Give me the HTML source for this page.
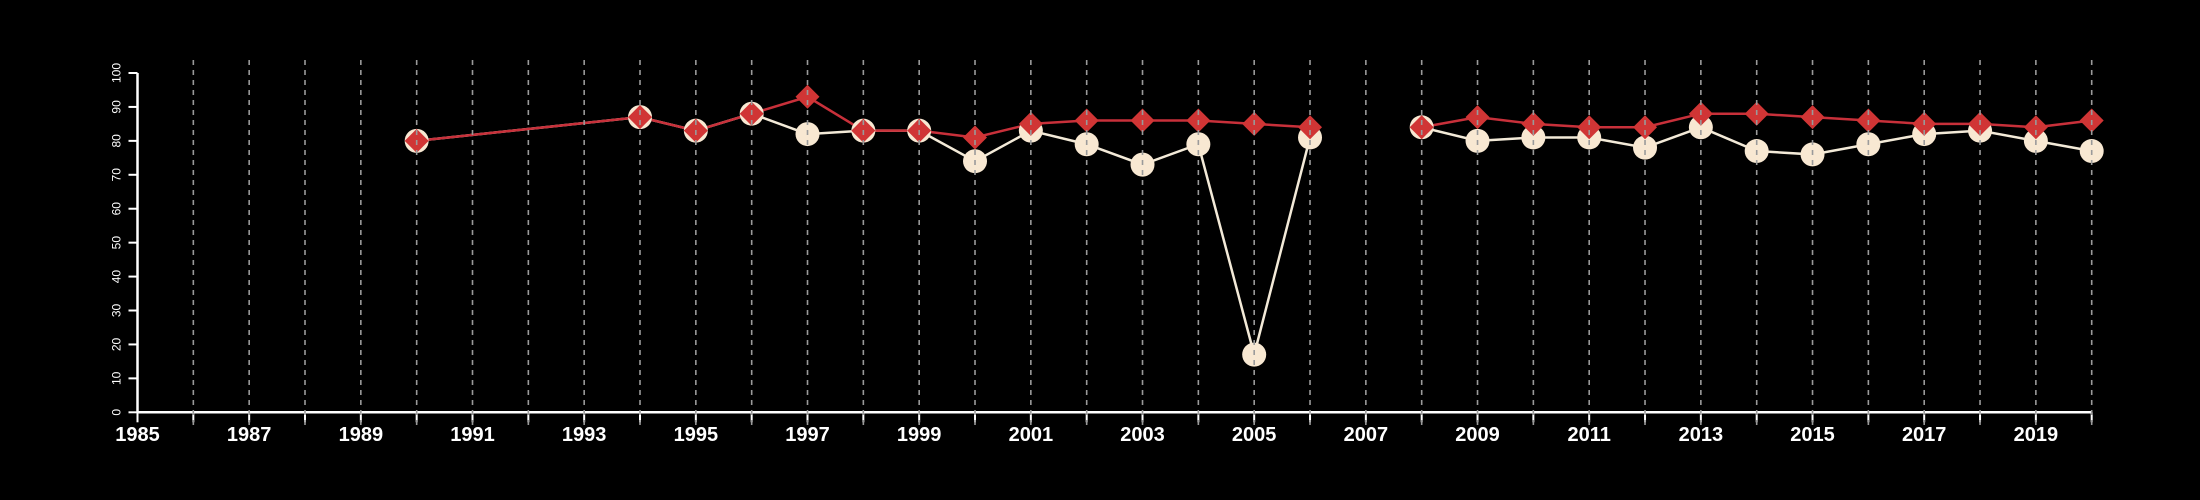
<!DOCTYPE html>
<html><head><meta charset="utf-8"><style>
html,body{margin:0;padding:0;background:#000;}
svg{display:block;font-family:"Liberation Sans",sans-serif;}
</style></head><body>
<svg id="chart" width="2200" height="500" viewBox="0 0 2200 500" xmlns="http://www.w3.org/2000/svg">
<rect width="2200" height="500" fill="#000"/>
<g id="axes"></g><g id="lines"></g><g id="pts"></g><g id="grid"></g>
</svg>
<script>
const years = [1990,1994,1995,1996,1997,1998,1999,2000,2001,2002,2003,2004,2005,2006,2007,2008,2009,2010,2011,2012,2013,2014,2015,2016,2017,2018,2019,2020];
const whiteSeries = [80,87,83,88,82,83,83,74,83,79,73,79,17,81,null,84,80,81,81,78,84,77,76,79,82,83,80,77];
const redSeries = [80,87,83,88,93,83,83,81,85,86,86,86,85,84,null,84,87,85,84,84,88,88,87,86,85,85,84,86];
const yTicks = [0,10,20,30,40,50,60,70,80,90,100];
const xLabelYears = [1985,1987,1989,1991,1993,1995,1997,1999,2001,2003,2005,2007,2009,2011,2013,2015,2017,2019];

const NS="http://www.w3.org/2000/svg";
const X0=137.5,X1=2091.7,Y0=412.3,Y1=73;
const sx=y=>X0+(y-1985)/(2020-1985)*(X1-X0);
const sy=v=>Y0-(v/100)*(Y0-Y1);
function mk(tag,attrs,parent){const e=document.createElementNS(NS,tag);for(const k in attrs)e.setAttribute(k,attrs[k]);parent.appendChild(e);return e;}
const axes=document.getElementById('axes'),lines=document.getElementById('lines'),pts=document.getElementById('pts'),grid=document.getElementById('grid');

// y axis
let ya=mk('line',{x1:X0,x2:X0,y1:sy(0),y2:sy(100),stroke:'#fff','stroke-width':2.5},axes);


yTicks.forEach(v=>{
  let t=mk('line',{x1:X0-9,x2:X0,y1:sy(v),y2:sy(v),stroke:'#fff','stroke-width':2},axes);
  
  
  let tx=mk('text',{x:0,y:0,fill:'#fff','font-size':12,'text-anchor':'middle',transform:`translate(${X0-17},${sy(v)}) rotate(-90)`},axes);
  tx.textContent=v;
  
  
});
// x axis
let xa=mk('line',{x1:X0,x2:X1,y1:Y0,y2:Y0,stroke:'#fff','stroke-width':2.5},axes);


for(let y=1985;y<=2020;y++){
  let t=mk('line',{x1:sx(y),x2:sx(y),y1:Y0,y2:Y0+10,stroke:'#fff','stroke-width':2},axes);
  
  
  if(y>1985){
    let g=mk('line',{x1:sx(y),x2:sx(y),y1:60,y2:Y0+16,stroke:'#9a9a9a','stroke-width':1.6,'stroke-dasharray':'5,5'},grid);
    
    
  }
}
xLabelYears.forEach(y=>{
  let tx=mk('text',{x:sx(y),y:441,fill:'#fff','font-size':20,'font-weight':'bold','text-anchor':'middle'},axes);
  tx.textContent=y;
  
  
});
function segs(vals){const out=[];let cur=[];vals.forEach((v,i)=>{if(v==null){if(cur.length)out.push(cur);cur=[];}else cur.push([sx(years[i]),sy(v)]);});if(cur.length)out.push(cur);return out;}
segs(whiteSeries).forEach(s=>{if(s.length<2)return;
  let p=mk('polyline',{points:s.map(q=>q.join(',')).join(' '),fill:'none',stroke:'#f3ead8','stroke-width':2.5},lines);
  
  });
segs(redSeries).forEach(s=>{if(s.length<2)return;
  let p=mk('polyline',{points:s.map(q=>q.join(',')).join(' '),fill:'none',stroke:'#c8303a','stroke-width':2.5},lines);
  
  });
whiteSeries.forEach((v,i)=>{if(v==null)return;
  let c=mk('circle',{cx:sx(years[i]),cy:sy(v),r:12,fill:'#f8e8d2'},pts);
  
  });
redSeries.forEach((v,i)=>{if(v==null)return;
  const x=sx(years[i]),y=sy(v),d=12;
  let p=mk('polygon',{points:`${x},${y-d} ${x+d},${y} ${x},${y+d} ${x-d},${y}`,fill:'#d03535'},pts);
  
  });
</script>
</body></html>
